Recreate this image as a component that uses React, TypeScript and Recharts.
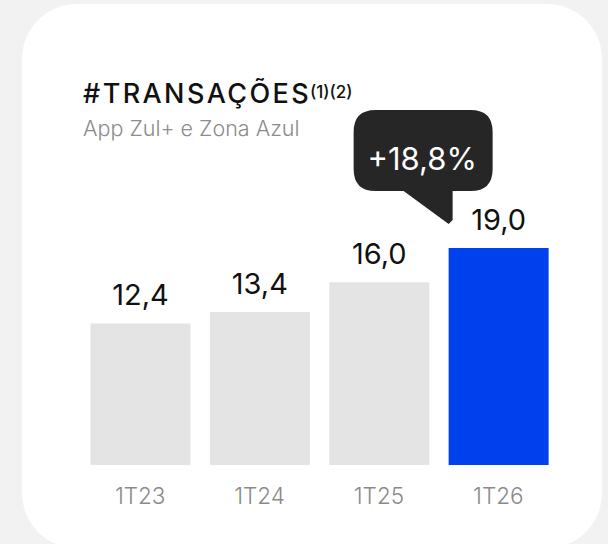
import { BarChart, Bar, XAxis, YAxis, Cell, LabelList } from 'recharts';

// #region Sample data
const quarters = ['1T23', '1T24', '1T25', '1T26'];
const transactions = [12.4, 13.4, 16.0, 19.0];
const barColors = ['#e4e4e4', '#e4e4e4', '#e4e4e4', '#0041ee'];
// #endregion

const data = quarters.map((quarter, i) => ({ quarter, value: transactions[i] }));

const fmt = (v: number) => v.toFixed(1).replace('.', ',');
const lastIdx = transactions.length - 1;
const growth = (transactions[lastIdx] / transactions[lastIdx - 1] - 1) * 100;

const FONT = 'Inter, "Noto Sans", sans-serif';

const ValueLabel = (props: any) => {
  const vb = props.viewBox ?? props;
  const { x, y, width } = vb;
  return (
    <text x={x + width / 2} y={y - 18} textAnchor="middle" fontFamily={FONT} fontSize={29} fill="#111">
      {fmt(Number(props.value))}
    </text>
  );
};

const GrowthBubble = (props: any) => {
  if (props.index !== lastIdx) return null;
  const vb = props.viewBox ?? props;
  const { x, y } = vb;
  const L = x - 95;
  const R = x + 44;
  const T = y - 138;
  const B = y - 57;
  const r = 22;
  const d = `M${L + r},${T} H${R - r} Q${R},${T} ${R},${T + r} V${B - r} Q${R},${B} ${R - r},${B} H${x + 4} V${y - 28} L${x},${y - 24} L${x - 45},${B} H${L + r} Q${L},${B} ${L},${B - r} V${T + r} Q${L},${T} ${L + r},${T} Z`;
  return (
    <g>
      <path d={d} fill="#262626" />
      <text x={(L + R) / 2 - 1} y={y - 78} textAnchor="middle" fontFamily={FONT} fontSize={31} fill="#fff">
        {`+${fmt(growth)}%`}
      </text>
    </g>
  );
};

const QuarterTick = (props: any) => {
  const { x, y, payload } = props;
  return (
    <text x={x} y={y + 39} textAnchor="middle" fontFamily={FONT} fontSize={22.5} fontWeight={300} fill="#8a8a8a">
      {payload.value}
    </text>
  );
};

const TransactionsChart = () => {
  return (
    <div style={{ position: 'absolute', top: 0, left: 0, width: 608, height: 544, background: '#f2f2f2', overflow: 'hidden' }}>
      <div
        style={{
          position: 'absolute',
          left: 22,
          top: 4,
          width: 580,
          height: 544,
          borderRadius: 55,
          background: '#fff',
        }}
      />
      <svg width={608} height={544} style={{ position: 'absolute', top: 0, left: 0 }}>
        <text x={83} y={103} fontFamily={FONT} fontSize={27} fontWeight={500} letterSpacing={2.4} fill="#111">
          #TRANSAÇÕES
        </text>
        <text x={310} y={98} fontFamily={FONT} fontSize={17} fontWeight={500} fill="#111">
          (1)(2)
        </text>
        <text x={83} y={136} fontFamily={FONT} fontSize={21.5} fontWeight={300} fill="#8c8c8c">
          App Zul+ e Zona Azul
        </text>
      </svg>
      <BarChart
        width={608}
        height={544}
        data={data}
        margin={{ top: 236.6, right: 50, left: 80.5, bottom: 49 }}
        style={{ position: 'absolute', top: 0, left: 0 }}
      >
        <XAxis
          dataKey="quarter"
          axisLine={false}
          tickLine={false}
          tickSize={0}
          tickMargin={0}
          height={30}
          interval={0}
          tick={<QuarterTick />}
        />
        <YAxis hide domain={[0, 20]} />
        <Bar dataKey="value" barSize={100} isAnimationActive={false}>
          {data.map((d, i) => (
            <Cell key={d.quarter} fill={barColors[i]} />
          ))}
          <LabelList dataKey="value" content={<ValueLabel />} />
          <LabelList dataKey="value" content={<GrowthBubble />} />
        </Bar>
      </BarChart>
    </div>
  );
};

export default function App() {
  return <TransactionsChart />;
}
